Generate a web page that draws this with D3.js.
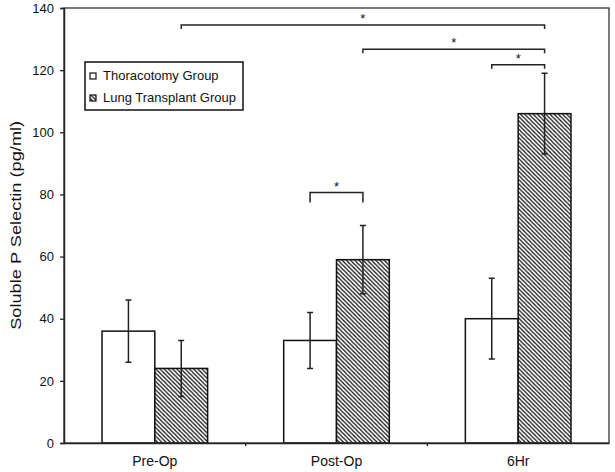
<!DOCTYPE html>
<html>
<head>
<meta charset="utf-8">
<script src="https://cdn.jsdelivr.net/npm/d3@7"></script>
<style>
  html, body { margin: 0; padding: 0; background: #fff; }
  svg { display: block; }
  text { font-family: "Liberation Sans", Arial, sans-serif; fill: #111; }
</style>
</head>
<body>
<svg id="chart" width="615" height="472"></svg>
<script>
// ---- data ----
const categories = ["Pre-Op", "Post-Op", "6Hr"];
const seriesNames = ["Thoracotomy Group", "Lung Transplant Group"];
const thoracotomyMeans = [36, 33, 40];
const thoracotomyErrors = [10, 9, 13];
const transplantMeans = [24, 59, 106];
const transplantErrors = [9, 11, 13];
const yTicks = [0, 20, 40, 60, 80, 100, 120, 140];
const yLabel = "Soluble P Selectin (pg/ml)";
// significance brackets
const bracketFrom = [["Pre-Op", 1], ["Post-Op", 1], ["6Hr", 0], ["Post-Op", 0]];
const bracketTo = [["6Hr", 1], ["6Hr", 1], ["6Hr", 1], ["Post-Op", 1]];
const bracketLevel = [134.5, 126.7, 121.7, 80.6];
const bracketLabel = ["*", "*", "*", "*"];

(function () {
// ---- layout ----
const svg = d3.select("#chart");
const mLeft = 64, mRight = 609, mTop = 8, mBottom = 443;

const y = d3.scaleLinear().domain([0, 140]).range([mBottom, mTop]);
const x0 = d3.scaleBand().domain(categories).range([mLeft, mRight]).padding(0);
const x1 = d3.scaleBand().domain([0, 1]).range([0, x0.bandwidth()])
  .paddingInner(0).paddingOuter(0.72);

const defs = svg.append("defs");
const pat = defs.append("pattern")
  .attr("id", "hatch").attr("patternUnits", "userSpaceOnUse")
  .attr("width", 4.2).attr("height", 4.2);
pat.append("rect").attr("width", 4.2).attr("height", 4.2).attr("fill", "#fff");
pat.append("path")
  .attr("d", "M-1,-1 L5.2,5.2 M-1,3.2 L1,5.2 M3.2,-1 L5.2,1")
  .attr("stroke", "#111").attr("stroke-width", 1.25);

const rows = categories.map((c, i) => ({
  cat: c,
  vals: [
    { s: 0, m: thoracotomyMeans[i], e: thoracotomyErrors[i] },
    { s: 1, m: transplantMeans[i], e: transplantErrors[i] }
  ]
}));

// bars
const groups = svg.append("g").selectAll("g").data(rows).join("g")
  .attr("transform", d => `translate(${x0(d.cat)},0)`);

groups.selectAll("rect").data(d => d.vals).join("rect")
  .attr("x", d => x1(d.s))
  .attr("y", d => y(d.m))
  .attr("width", x1.bandwidth())
  .attr("height", d => y(0) - y(d.m))
  .attr("fill", d => d.s === 0 ? "#fff" : "url(#hatch)")
  .attr("stroke", "#111").attr("stroke-width", 1.5);

// error bars
const cap = 3;
groups.selectAll("path.err").data(d => d.vals).join("path")
  .attr("class", "err")
  .attr("d", d => {
    const cx = x1(d.s) + x1.bandwidth() / 2;
    const y1 = y(d.m + d.e), y2 = y(d.m - d.e);
    return `M${cx - cap},${y1}H${cx + cap}M${cx},${y1}V${y2}M${cx - cap},${y2}H${cx + cap}`;
  })
  .attr("fill", "none").attr("stroke", "#222").attr("stroke-width", 1.5);

// frame
svg.append("rect")
  .attr("x", mLeft).attr("y", mTop)
  .attr("width", mRight - mLeft).attr("height", mBottom - mTop)
  .attr("fill", "none").attr("stroke", "#333").attr("stroke-width", 1.3);

// y axis
const yAxis = svg.append("g").attr("transform", `translate(${mLeft},0)`)
  .call(d3.axisLeft(y).tickValues(yTicks).tickSize(4).tickPadding(6));
yAxis.select(".domain").attr("stroke", "#222").attr("stroke-width", 1.5);
yAxis.selectAll(".tick line").attr("stroke", "#222").attr("stroke-width", 1.3);
yAxis.selectAll("text").attr("font-size", 13).attr("fill", "#111")
  .style("font-family", "'Liberation Sans', Arial, sans-serif");

// x axis
const xAxis = svg.append("g").attr("transform", `translate(0,${mBottom})`)
  .call(d3.axisBottom(x0).tickSize(0).tickPadding(13));
xAxis.select(".domain").attr("stroke", "#222").attr("stroke-width", 1.5);
xAxis.selectAll("text").attr("font-size", 14).attr("fill", "#111")
  .style("font-family", "'Liberation Sans', Arial, sans-serif");
// boundary ticks between categories
svg.append("g").selectAll("line").data(categories.slice(1)).join("line")
  .attr("x1", d => x0(d)).attr("x2", d => x0(d))
  .attr("y1", mBottom).attr("y2", mBottom + 3)
  .attr("stroke", "#222").attr("stroke-width", 1.3);

// y label
svg.append("text")
  .attr("transform", `translate(20.5,${(120.7 + 330) / 2}) rotate(-90)`)
  .attr("text-anchor", "middle")
  .attr("font-size", 14.5)
  .attr("textLength", 209)
  .attr("lengthAdjust", "spacingAndGlyphs")
  .text(yLabel);

// significance brackets
const cxOf = (c, s) => x0(c) + x1(s) + x1.bandwidth() / 2;
const brk = svg.append("g");
bracketLevel.forEach((lv, i) => {
  const xa = cxOf(bracketFrom[i][0], bracketFrom[i][1]);
  const xb = cxOf(bracketTo[i][0], bracketTo[i][1]);
  const yy = y(lv);
  const drop = i === 3 ? 10 : 4;
  brk.append("path")
    .attr("d", `M${xa},${yy + drop}V${yy}H${xb}V${yy + drop}`)
    .attr("fill", "none").attr("stroke", "#222").attr("stroke-width", 1.5);
  brk.append("text")
    .attr("x", (xa + xb) / 2).attr("y", yy - 2)
    .attr("text-anchor", "middle").attr("font-size", 13)
    .text(bracketLabel[i]);
});

// legend
const lg = svg.append("g");
lg.append("rect").attr("x", 85).attr("y", 62).attr("width", 158).attr("height", 48)
  .attr("fill", "#fff").attr("stroke", "#111").attr("stroke-width", 1.5);
seriesNames.forEach((name, i) => {
  const by = 80 + i * 22;
  lg.append("rect").attr("x", 90).attr("y", by - 7).attr("width", 6).attr("height", 6)
    .attr("fill", i === 0 ? "#fff" : "url(#hatch)")
    .attr("stroke", "#111").attr("stroke-width", 1.2);
  lg.append("text").attr("x", 103).attr("y", by).attr("font-size", 13).text(name);
});
})();
</script>
</body>
</html>
